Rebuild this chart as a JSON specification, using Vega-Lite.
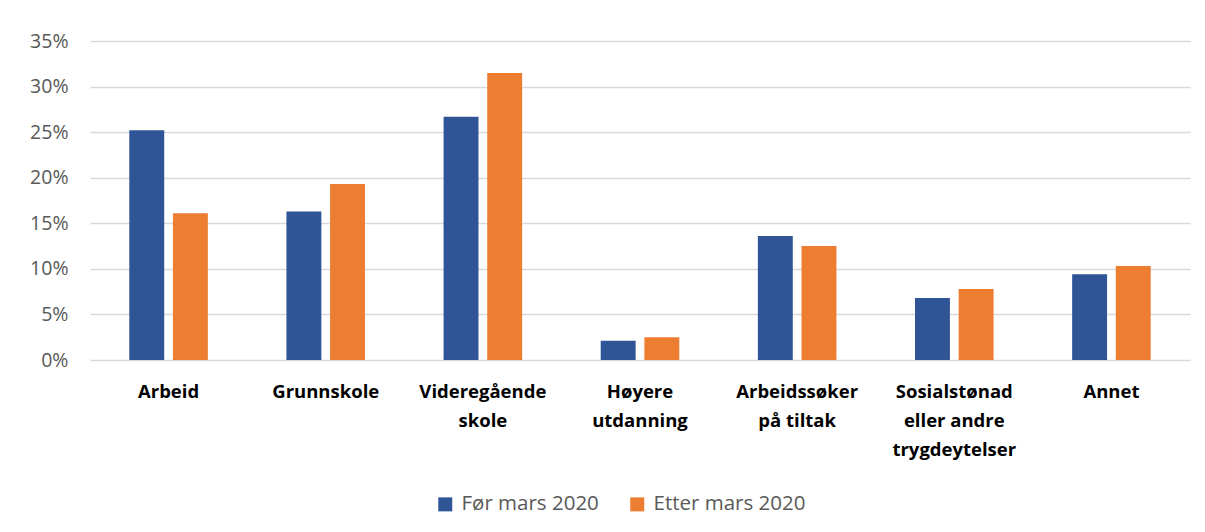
{
  "$schema": "https://vega.github.io/schema/vega-lite/v6.json",
  "autosize": "none",
  "width": 1100,
  "height": 319,
  "padding": {"left": 90, "top": 41, "right": 15, "bottom": 172},
  "background": "white",
  "data": {
    "values": [
      {"kategori": "Arbeid", "periode": "Før mars 2020", "andel": 0.252},
      {"kategori": "Arbeid", "periode": "Etter mars 2020", "andel": 0.161},
      {"kategori": "Grunnskole", "periode": "Før mars 2020", "andel": 0.163},
      {"kategori": "Grunnskole", "periode": "Etter mars 2020", "andel": 0.193},
      {"kategori": "Videregående|skole", "periode": "Før mars 2020", "andel": 0.267},
      {"kategori": "Videregående|skole", "periode": "Etter mars 2020", "andel": 0.315},
      {"kategori": "Høyere|utdanning", "periode": "Før mars 2020", "andel": 0.021},
      {"kategori": "Høyere|utdanning", "periode": "Etter mars 2020", "andel": 0.025},
      {"kategori": "Arbeidssøker|på tiltak", "periode": "Før mars 2020", "andel": 0.136},
      {"kategori": "Arbeidssøker|på tiltak", "periode": "Etter mars 2020", "andel": 0.125},
      {"kategori": "Sosialstønad|eller andre|trygdeytelser", "periode": "Før mars 2020", "andel": 0.068},
      {"kategori": "Sosialstønad|eller andre|trygdeytelser", "periode": "Etter mars 2020", "andel": 0.078},
      {"kategori": "Annet", "periode": "Før mars 2020", "andel": 0.094},
      {"kategori": "Annet", "periode": "Etter mars 2020", "andel": 0.103}
    ]
  },
  "mark": {"type": "bar"},
  "encoding": {
    "x": {
      "field": "kategori",
      "type": "nominal",
      "sort": null,
      "scale": {"paddingInner": 0.5, "paddingOuter": 0.25},
      "axis": {
        "title": null,
        "labelAngle": 0,
        "labelExpr": "split(datum.value, '|')",
        "labelFont": "Open Sans",
        "labelFontWeight": "bold",
        "labelFontSize": 18.5,
        "labelColor": "#000000",
        "labelLineHeight": 29,
        "labelPadding": 22,
        "ticks": false,
        "domain": false,
        "grid": false
      }
    },
    "xOffset": {
      "field": "periode",
      "type": "nominal",
      "sort": ["Før mars 2020", "Etter mars 2020"],
      "scale": {"paddingInner": 0.2, "paddingOuter": 0}
    },
    "y": {
      "field": "andel",
      "type": "quantitative",
      "scale": {"domain": [0, 0.35], "nice": false},
      "axis": {
        "title": null,
        "format": ".0%",
        "values": [0, 0.05, 0.1, 0.15, 0.2, 0.25, 0.3, 0.35],
        "labelFont": "Open Sans",
        "labelFontSize": 19.5,
        "labelColor": "#595959",
        "labelPadding": 22,
        "ticks": false,
        "domain": false,
        "grid": true,
        "gridColor": "#d9d9d9",
        "gridWidth": 1.5
      }
    },
    "color": {
      "field": "periode",
      "type": "nominal",
      "sort": ["Før mars 2020", "Etter mars 2020"],
      "scale": {"domain": ["Før mars 2020", "Etter mars 2020"], "range": ["#2f5597", "#ed7d31"]},
      "legend": {
        "title": null,
        "orient": "none",
        "direction": "horizontal",
        "legendX": 345,
        "legendY": 453,
        "symbolType": "square",
        "symbolSize": 196,
        "symbolStrokeWidth": 0,
        "labelFont": "Open Sans",
        "labelFontSize": 20.5,
        "labelColor": "#595959",
        "columnPadding": 28,
        "labelOffset": 6
      }
    }
  },
  "config": {"view": {"stroke": null}}
}
